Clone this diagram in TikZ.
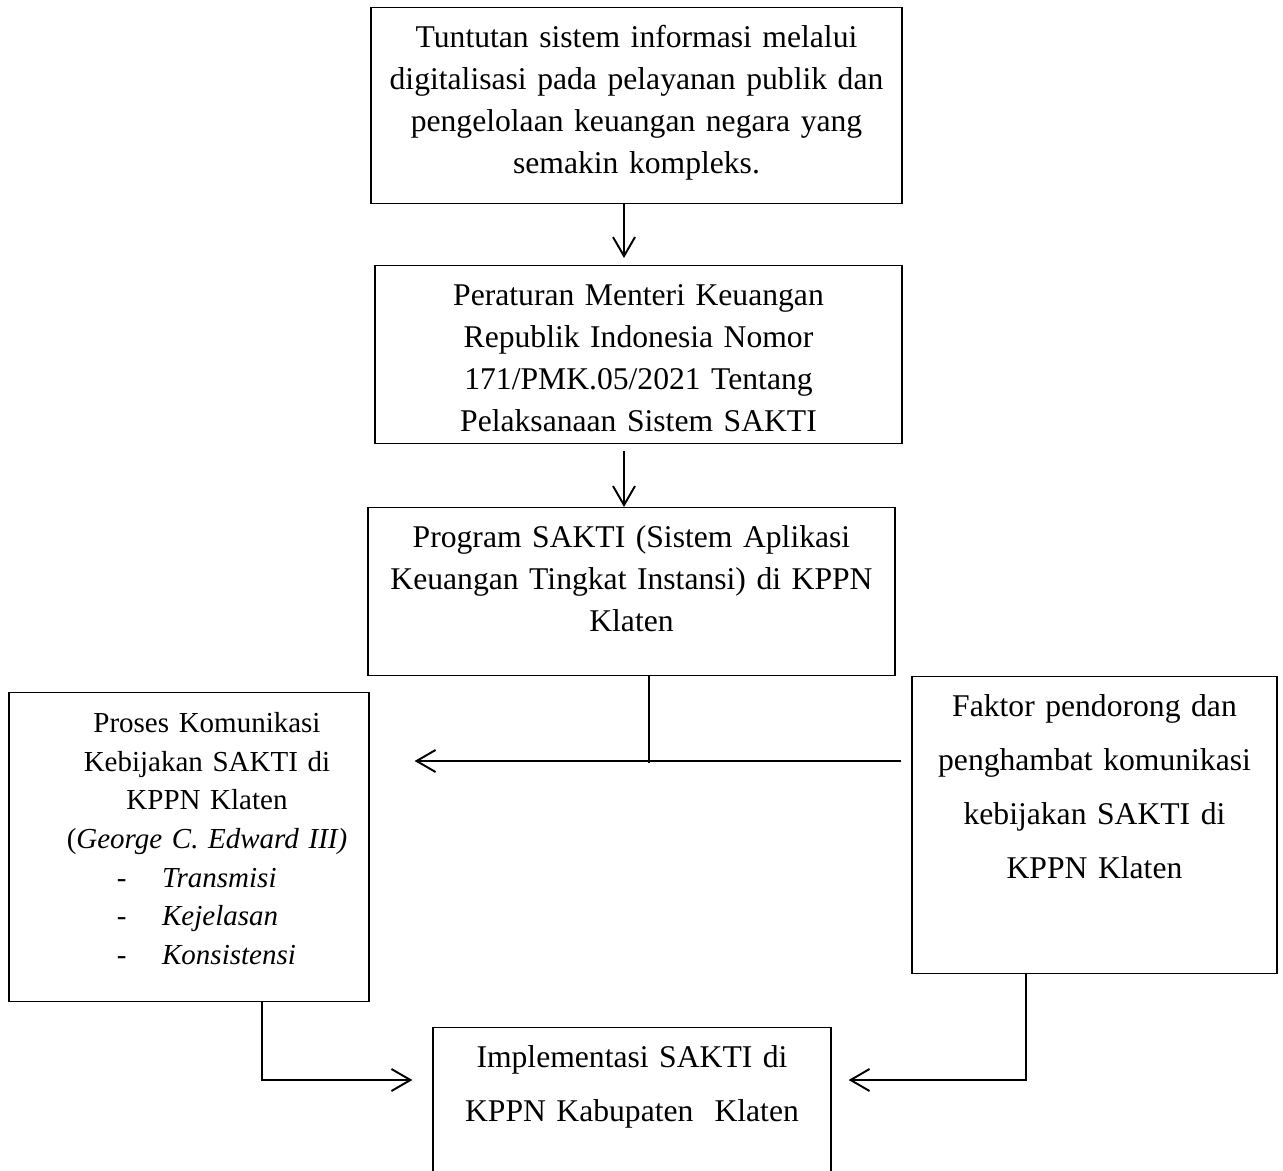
\documentclass[tikz,border=0pt]{standalone}
\usepackage{fontspec}
\setmainfont{Liberation Serif}
\usetikzlibrary{arrows.meta}
\tikzset{>={Straight Barb[length=3.8mm,width=4.4mm]}}
\tikzset{%
    kotak/.style={draw, line width=0.7pt, anchor=north, align=center,
        inner sep=0pt, text height=0.8cm, font=\fontsize{18}{23.9}\selectfont},%
    renggang/.style={font=\fontsize{18}{30.7}\selectfont},%
    kecil/.style={font=\fontsize{16.5}{22}\selectfont}%
}
\newcommand{\butir}[1]{\makebox[3.6cm][l]{-\hspace{0.71cm}\textit{#1}}}

\begin{document}
\begin{tikzpicture}[line width=1.1pt]
      \useasboundingbox (0,0) rectangle (25.66,-23.42);
      \clip (0,0) rectangle (25.66,-23.42);
      \node[kotak, text width=10.62cm, text depth=3.12cm] (tuntutan) at (12.73,-0.14)
        {Tuntutan sistem informasi melalui\\ digitalisasi pada pelayanan publik dan\\
         pengelolaan keuangan negara yang\\ semakin kompleks.};
      \node[kotak, text width=10.54cm, text depth=2.76cm] (pmk) at (12.77,-5.30)
        {Peraturan Menteri Keuangan\\ Republik Indonesia Nomor\\
         171/PMK.05/2021 Tentang\\ Pelaksanaan Sistem SAKTI};
      \node[kotak, text width=10.54cm, text depth=2.56cm] (program) at (12.63,-10.14)
        {Program SAKTI (Sistem Aplikasi\\ Keuangan Tingkat Instansi) di KPPN\\ Klaten};
      \node[kotak, kecil, text width=7.2cm, text depth=5.38cm] (proses) at (3.78,-13.84)
        {\hspace*{0.72cm}\parbox[t]{6.48cm}{\centering
         Proses Komunikasi\\ Kebijakan SAKTI di\\ KPPN Klaten\\
         (\textit{George C. Edward III)}\\ \butir{Transmisi}\\ \butir{Kejelasan}\\
         \butir{Konsistensi}}};
      \node[kotak, renggang, text width=7.3cm, text depth=5.14cm] (faktor) at (21.89,-13.52)
        {Faktor pendorong dan\\ penghambat komunikasi\\ kebijakan SAKTI di\\ KPPN Klaten};
      \node[kotak, renggang, text width=7.96cm, text depth=2.4cm] (implementasi) at (12.64,-20.54)
        {Implementasi SAKTI di\\ KPPN Kabupaten\ \ Klaten};
      % titik bantu
      \coordinate (sumbu) at (12.48,0);
      \coordinate (simpang) at (12.98,-15.22);
      \coordinate (kiri) at (5.24,-21.6);
      \coordinate (kanan) at (20.52,-21.6);
      \draw[->, shorten >=0.14cm] (tuntutan.south -| sumbu) -- (pmk.north -| sumbu);
      \draw[->, shorten <=0.14cm] (pmk.south -| sumbu) -- (program.north -| sumbu);
      \draw (program.south -| simpang) -- ([yshift=-0.04cm]simpang);
      \draw[->] ([xshift=-0.2cm]faktor.west |- simpang) -- ([xshift=0.9cm]proses.east |- simpang);
      \draw[->] (proses.south -| kiri) |- ([xshift=-0.4cm]implementasi.west |- kiri);
      \draw[->] (faktor.south -| kanan) |- ([xshift=0.34cm]implementasi.east |- kanan);
\end{tikzpicture}
\end{document}
